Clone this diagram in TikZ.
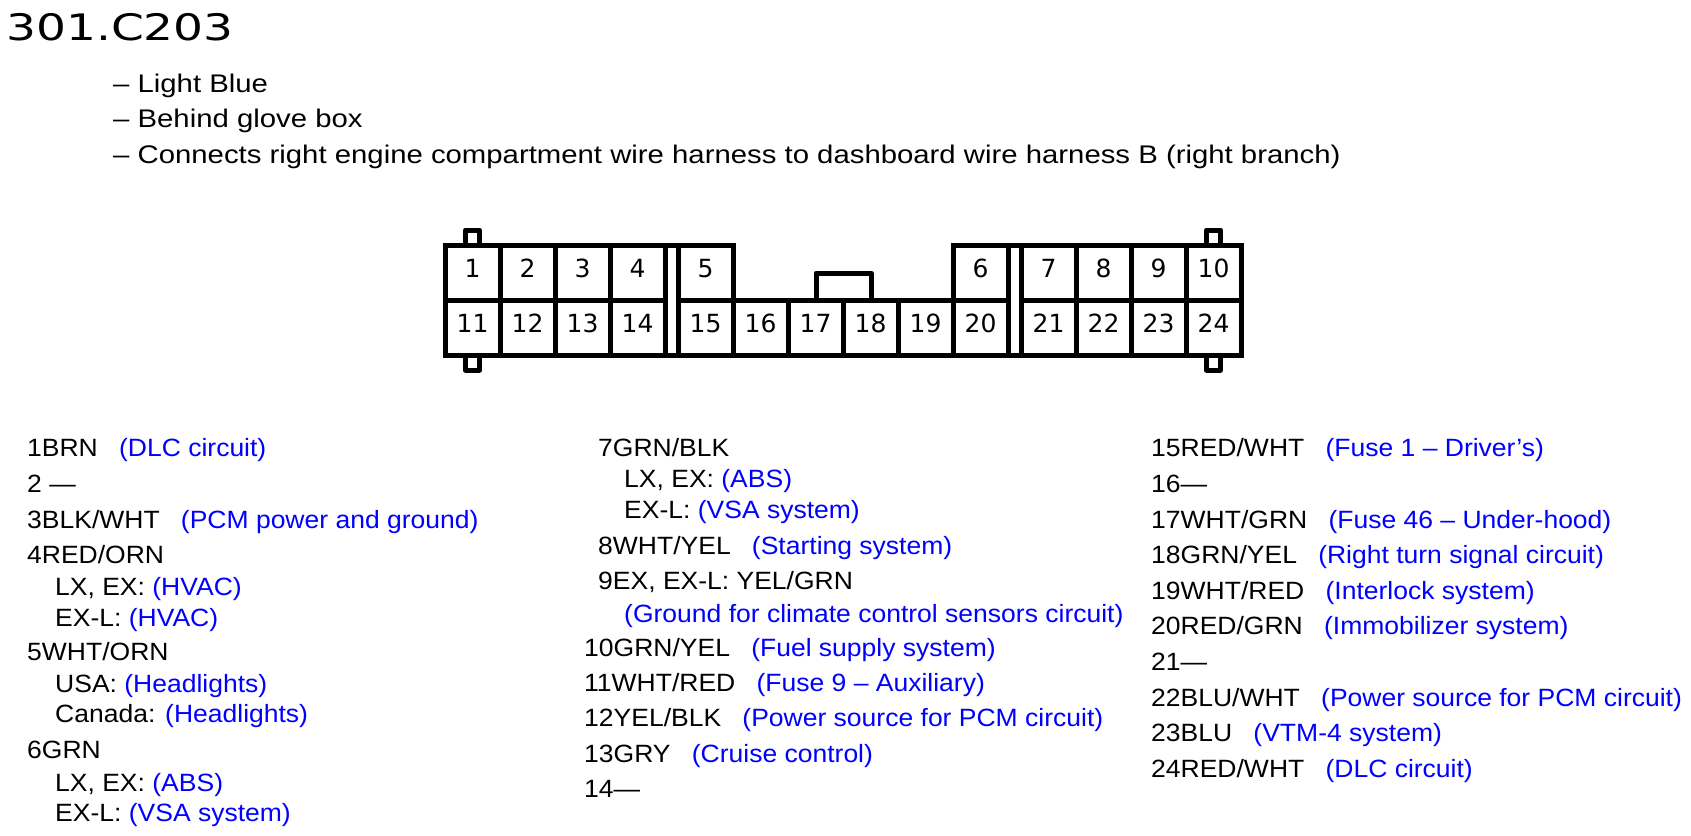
\documentclass[tikz,border=0pt]{standalone}
\usepackage{fontspec}
\setmainfont[FakeStretch=1.06]{Liberation Sans}
\newfontfamily\headfont[FakeStretch=1.15]{Liberation Sans}
\newfontfamily\pinfont{DejaVu Sans}
\newcommand{\colgap}{\hspace{0.85em}}
\newcommand{\fnc}[1]{\textcolor{blue}{#1}}
\tikzset{
    body/.style={line width=5pt, line join=round},
    cavity/.style={draw, line width=5pt, minimum width=55pt, minimum height=55pt,
        inner sep=0pt, text depth=8pt, font=\pinfont\fontsize{25}{25}\selectfont},
    wire/.style={anchor=base west, inner sep=0pt, font=\fontsize{25}{30}\selectfont},
    note/.style={anchor=base west, inner sep=0pt, font=\headfont\fontsize{25.5}{30}\selectfont}
}
\begin{document}
\begin{tikzpicture}[x=1pt,y=-1pt]
    \useasboundingbox (0,0) rectangle (1691,835);

    \node[anchor=base west, inner sep=0pt, font=\pinfont\fontsize{36.5}{40}\selectfont] (title) at (6,40) {\scalebox{1.29}[1]{301.C203}};
    \node[note] (colour) at (113,92) {– Light Blue};
    \node[note] (place) at (113,127.5) {– Behind glove box};
    \node[note] (joins) at (113,163) {– Connects right engine compartment wire harness to dashboard wire harness B (right branch)};

    % locking tabs
    \draw[body] (465.5,230) rectangle (479.5,245);
    \draw[body] (465.5,355) rectangle (479.5,370);
    \draw[body] (1206.5,230) rectangle (1220.5,245);
    \draw[body] (1206.5,355) rectangle (1220.5,370);

    \draw[body] (445,245) -- (733,245) -- (733,300) -- (816,300) -- (816,273) -- (871,273) -- (871,300)
        -- (953,300) -- (953,245) -- (1241,245) -- (1241,355) -- (445,355) -- cycle;

    \node[cavity] (p1) at (472.5,272.5) {1};
    \node[cavity] (p2) at (527.5,272.5) {2};
    \node[cavity] (p3) at (582.5,272.5) {3};
    \node[cavity] (p4) at (637.5,272.5) {4};
    \node[cavity] (p5) at (705.5,272.5) {5};
    \node[cavity] (p6) at (980.5,272.5) {6};
    \node[cavity] (p7) at (1048.5,272.5) {7};
    \node[cavity] (p8) at (1103.5,272.5) {8};
    \node[cavity] (p9) at (1158.5,272.5) {9};
    \node[cavity] (p10) at (1213.5,272.5) {10};

    \node[cavity] (p11) at (472.5,327.5) {11};
    \node[cavity] (p12) at (527.5,327.5) {12};
    \node[cavity] (p13) at (582.5,327.5) {13};
    \node[cavity] (p14) at (637.5,327.5) {14};
    \node[cavity] (p15) at (705.5,327.5) {15};
    \node[cavity] (p16) at (760.5,327.5) {16};
    \node[cavity] (p17) at (815.5,327.5) {17};
    \node[cavity] (p18) at (870.5,327.5) {18};
    \node[cavity] (p19) at (925.5,327.5) {19};
    \node[cavity] (p20) at (980.5,327.5) {20};
    \node[cavity] (p21) at (1048.5,327.5) {21};
    \node[cavity] (p22) at (1103.5,327.5) {22};
    \node[cavity] (p23) at (1158.5,327.5) {23};
    \node[cavity] (p24) at (1213.5,327.5) {24};

    % terminal list
    \node[wire] (w1) at (27,456) {1BRN\colgap\fnc{(DLC circuit)}};
    \node[wire] (w2) at (27,492.5) {2 —};
    \node[wire] (w3) at (27,528) {3BLK/WHT\colgap\fnc{(PCM power and ground)}};
    \node[wire] (w4) at (27,563.6) {4RED/ORN};
    \node[wire] (w4a) at (55,595) {LX, EX: \fnc{(HVAC)}};
    \node[wire] (w4b) at (55,626) {EX-L: \fnc{(HVAC)}};
    \node[wire] (w5) at (27,660.6) {5WHT/ORN};
    \node[wire] (w5a) at (55,692) {USA: \fnc{(Headlights)}};
    \node[wire] (w5b) at (55,722) {Canada: \fnc{(Headlights)}};
    \node[wire] (w6) at (27,758) {6GRN};
    \node[wire] (w6a) at (55,791) {LX, EX: \fnc{(ABS)}};
    \node[wire] (w6b) at (55,821.5) {EX-L: \fnc{(VSA system)}};

    \node[wire] (w7) at (598,456) {7GRN/BLK};
    \node[wire] (w7a) at (624,487) {LX, EX: \fnc{(ABS)}};
    \node[wire] (w7b) at (624,518.3) {EX-L: \fnc{(VSA system)}};
    \node[wire] (w8) at (598,554) {8WHT/YEL\colgap\fnc{(Starting system)}};
    \node[wire] (w9) at (598,589.4) {9EX, EX-L: YEL/GRN};
    \node[wire] (w9a) at (624,622) {\fnc{(Ground for climate control sensors circuit)}};
    \node[wire] (w10) at (584,656.5) {10GRN/YEL\colgap\fnc{(Fuel supply system)}};
    \node[wire] (w11) at (584,691) {11WHT/RED\colgap\fnc{(Fuse 9 – Auxiliary)}};
    \node[wire] (w12) at (584,726.4) {12YEL/BLK\colgap\fnc{(Power source for PCM circuit)}};
    \node[wire] (w13) at (584,762) {13GRY\colgap\fnc{(Cruise control)}};
    \node[wire] (w14) at (584,797.5) {14—};

    \node[wire] (w15) at (1151,456) {15RED/WHT\colgap\fnc{(Fuse 1 – Driver’s)}};
    \node[wire] (w16) at (1151,492.4) {16—};
    \node[wire] (w17) at (1151,528) {17WHT/GRN\colgap\fnc{(Fuse 46 – Under-hood)}};
    \node[wire] (w18) at (1151,563.6) {18GRN/YEL\colgap\fnc{(Right turn signal circuit)}};
    \node[wire] (w19) at (1151,599.2) {19WHT/RED\colgap\fnc{(Interlock system)}};
    \node[wire] (w20) at (1151,634.7) {20RED/GRN\colgap\fnc{(Immobilizer system)}};
    \node[wire] (w21) at (1151,670.3) {21—};
    \node[wire] (w22) at (1151,706) {22BLU/WHT\colgap\fnc{(Power source for PCM circuit)}};
    \node[wire] (w23) at (1151,741.5) {23BLU\colgap\fnc{(VTM-4 system)}};
    \node[wire] (w24) at (1151,777) {24RED/WHT\colgap\fnc{(DLC circuit)}};
\end{tikzpicture}
\end{document}
